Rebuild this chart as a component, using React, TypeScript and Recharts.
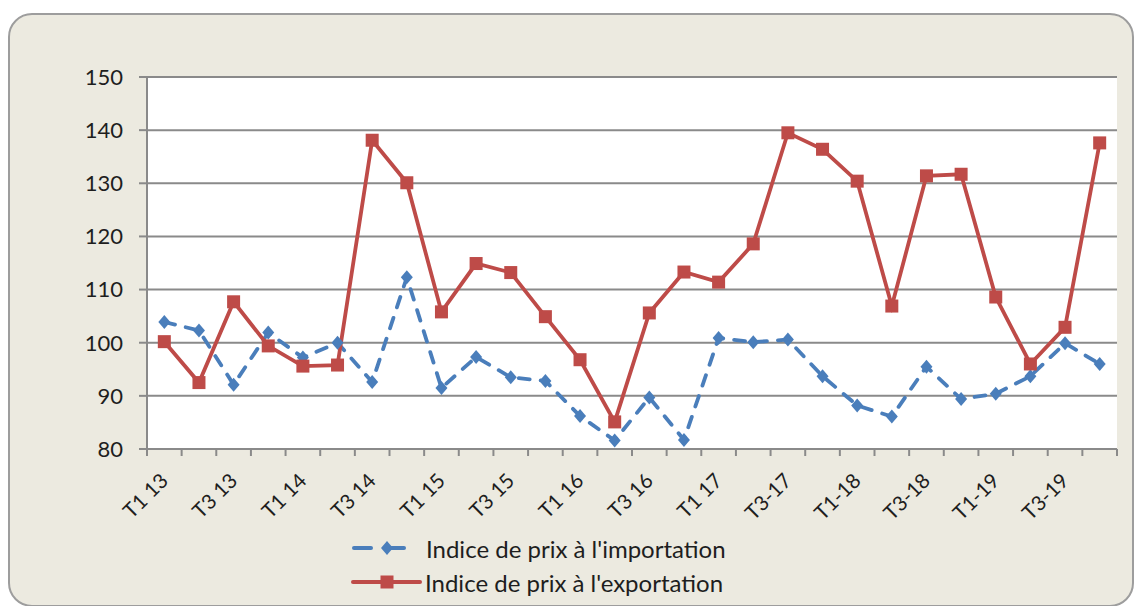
import React from 'react'
import {
  LineChart,
  Line,
  XAxis,
  YAxis,
  CartesianGrid,
  Legend,
} from 'recharts'

// quarters, T1 13 .. T4 19 (only every other label is shown on the axis)
const categories = [
  'T1 13', 'T2 13', 'T3 13', 'T4 13',
  'T1 14', 'T2 14', 'T3 14', 'T4 14',
  'T1 15', 'T2 15', 'T3 15', 'T4 15',
  'T1 16', 'T2 16', 'T3 16', 'T4 16',
  'T1 17', 'T2 17', 'T3-17', 'T4-17',
  'T1-18', 'T2-18', 'T3-18', 'T4-18',
  'T1-19', 'T2-19', 'T3-19', 'T4-19',
]

const importIndex = [
  103.9, 102.3, 92.1, 101.9, 97.2, 100.0, 92.6, 112.3,
  91.5, 97.3, 93.5, 92.8, 86.2, 81.6, 89.7, 81.7,
  100.9, 100.1, 100.6, 93.7, 88.2, 86.1, 95.5, 89.4,
  90.4, 93.7, 99.9, 96.0,
]

const exportIndex = [
  100.2, 92.5, 107.7, 99.4, 95.6, 95.8, 138.1, 130.1,
  105.8, 114.9, 113.2, 104.9, 96.8, 85.1, 105.6, 113.3,
  111.4, 118.6, 139.5, 136.4, 130.4, 106.9, 131.4, 131.7,
  108.6, 96.0, 102.9, 137.6,
]

const yTicks = [80, 90, 100, 110, 120, 130, 140, 150]

const seriesNames = ["Indice de prix à l'importation", "Indice de prix à l'exportation"]

const BLUE = '#4A7EBB'
const RED = '#BE4B48'
const GRID = '#8a8a8a'
const INK = '#1e1e1e'
const FONT = 'Lato, "Open Sans", sans-serif'

const W = 1135
const H = 606
const PLOT_W = 970
const HALF_STEP = PLOT_W / categories.length / 2

// x is the category slot centre, so tick marks fall between categories like Excel
const data = categories.map((label, i) => ({
  pos: i + 0.5,
  label,
  imp: importIndex[i],
  exp: exportIndex[i],
}))

const xTicks = categories.map((_, i) => i).concat(categories.length)

function CategoryTick(props: any) {
  const { x, y, payload } = props
  const idx = payload.value
  if (idx % 2 !== 0 || idx >= categories.length) return <g />
  const tx = x + HALF_STEP + 5
  const ty = y + 24
  return (
    <text
      x={tx}
      y={ty}
      transform={`rotate(-45, ${tx}, ${ty})`}
      textAnchor="end"
      fill={INK}
      fontSize={20.5}
      fontFamily={FONT}
    >
      {categories[idx]}
    </text>
  )
}

function Diamond(props: any) {
  const { cx, cy, index } = props
  if (cx == null || cy == null) return <g key={index} />
  return (
    <path
      key={index}
      d={`M${cx},${cy - 7} L${cx + 6},${cy} L${cx},${cy + 7} L${cx - 6},${cy} Z`}
      fill={BLUE}
    />
  )
}

function Square(props: any) {
  const { cx, cy, index } = props
  if (cx == null || cy == null) return <g key={index} />
  return <rect key={index} x={cx - 6.5} y={cy - 6.5} width={13} height={13} fill={RED} />
}

function LegendBox() {
  const row: React.CSSProperties = {
    display: 'flex',
    alignItems: 'center',
    height: 34,
    fontFamily: FONT,
    fontSize: 24,
    color: INK,
    whiteSpace: 'nowrap',
  }
  return (
    <div>
      <div style={row}>
        <svg width={76} height={34}>
          <line x1={4} y1={17} x2={21} y2={17} stroke={BLUE} strokeWidth={4} strokeLinecap="round" />
          <path d="M37,10 L43,17 L37,24 L31,17 Z" fill={BLUE} />
          <line x1={41} y1={17} x2={54} y2={17} stroke={BLUE} strokeWidth={4} strokeLinecap="round" />
        </svg>
        <span>{seriesNames[0]}</span>
      </div>
      <div style={row}>
        <svg width={75} height={34}>
          <line x1={3} y1={17} x2={70} y2={17} stroke={RED} strokeWidth={4} strokeLinecap="round" />
          <rect x={30.5} y={10.5} width={13} height={13} fill={RED} />
        </svg>
        <span>{seriesNames[1]}</span>
      </div>
    </div>
  )
}

export default function App() {
  return (
    <div style={{ position: 'absolute', left: 0, top: 0, width: W, height: H, background: '#fff' }}>
      <div
        style={{
          position: 'absolute',
          left: 8,
          top: 13,
          width: 1122,
          height: 590,
          border: '2px solid #9d9d9d',
          borderRadius: 24,
          background: '#ECEAE0',
        }}
      />
      <div style={{ position: 'absolute', left: 0, top: 0 }}>
        <LineChart
          width={W}
          height={H}
          data={data}
          margin={{ top: 77, right: 18, left: 0, bottom: 97 }}
        >
          <CartesianGrid
            horizontal
            vertical={false}
            fill="#ffffff"
            stroke={GRID}
            strokeWidth={2}
          />
          <XAxis
            type="number"
            dataKey="pos"
            domain={[0, categories.length]}
            ticks={xTicks}
            interval={0}
            height={60}
            axisLine={{ stroke: GRID, strokeWidth: 2 }}
            tickLine={{ stroke: GRID, strokeWidth: 2 }}
            tickSize={7}
            tick={<CategoryTick />}
          />
          <YAxis
            domain={[80, 150]}
            ticks={yTicks}
            interval={0}
            width={147}
            axisLine={{ stroke: GRID, strokeWidth: 2 }}
            tickLine={{ stroke: GRID, strokeWidth: 2 }}
            tickSize={8}
            tickMargin={16}
            tick={{ fill: INK, fontSize: 22, fontFamily: FONT }}
          />
          <Legend
            layout="vertical"
            align="center"
            verticalAlign="middle"
            content={<LegendBox />}
            wrapperStyle={{ position: 'absolute', left: 350, top: 531, width: 420 }}
          />
          <Line
            dataKey="imp"
            name={seriesNames[0]}
            stroke={BLUE}
            strokeWidth={3.8}
            strokeDasharray="11 11"
            strokeLinecap="round"
            dot={Diamond}
            activeDot={false}
            isAnimationActive={false}
          />
          <Line
            dataKey="exp"
            name={seriesNames[1]}
            stroke={RED}
            strokeWidth={3.8}
            dot={Square}
            activeDot={false}
            isAnimationActive={false}
          />
        </LineChart>
      </div>
    </div>
  )
}
